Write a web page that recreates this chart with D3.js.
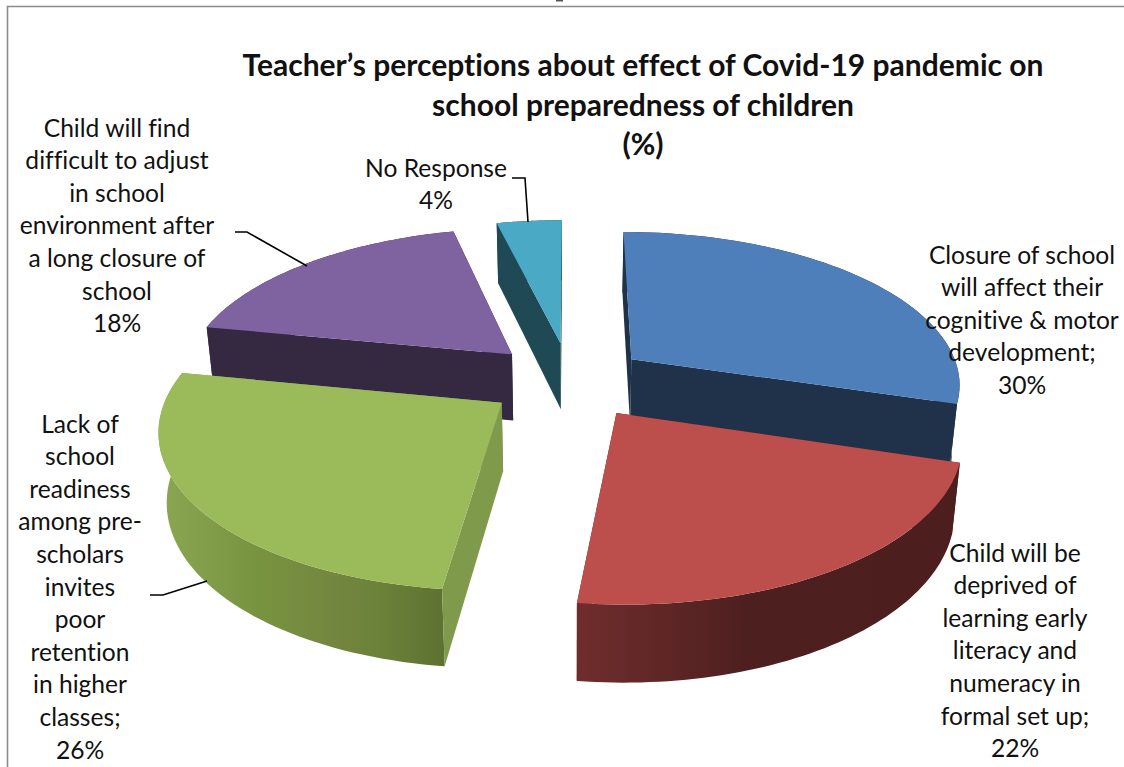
<!DOCTYPE html>
<html>
<head>
<meta charset="utf-8">
<script src="https://cdnjs.cloudflare.com/ajax/libs/d3/7.8.5/d3.min.js"></script>
<style>
  html, body { margin: 0; padding: 0; background: #fff; }
  svg { display: block; }
  text { font-family: Lato, "Open Sans", sans-serif; fill: #111; font-variant-ligatures: none; }
  .title { font-size: 30px; font-weight: 700; text-anchor: middle; }
  .label { font-size: 24.6px; text-anchor: middle; }
  .leader { fill: none; stroke: #000; stroke-width: 1.6; }
</style>
</head>
<body>
<svg id="chart" width="1124" height="767"></svg>
<script>
var categories = [
  "Closure of school will affect their cognitive & motor development",
  "Child will be deprived of learning early literacy and numeracy in formal set up",
  "Lack of school readiness among pre-scholars invites poor retention in higher classes",
  "Child will find difficult to adjust in school environment after a long closure of school",
  "No Response"
];
// slice sizes, the labels show them rounded
var values = [29.75, 22.15, 26.2, 18.15, 3.75];

var labelLines = [
  ["Closure of school", "will affect their", "cognitive & motor", "development;"],
  ["Child will be", "deprived of", "learning early", "literacy and", "numeracy in", "formal set up;"],
  ["Lack of", "school", "readiness", "among pre-", "scholars", "invites", "poor", "retention", "in higher", "classes;"],
  ["Child will find", "difficult to adjust", "in school", "environment after", "a long closure of", "school"],
  ["No Response"]
];
var titleLines = [
  "Teacher\u2019s perceptions about effect of Covid-19 pandemic on",
  "school preparedness of children",
  "(%)"
];

var topColors  = ["#4f7fbb", "#bc4e4b", "#9bba5a", "#7f62a0", "#4aa9c4"];
// cut face colours: [start edge, end edge]
var faceColors = [
  ["#1f3249", "#1f3249"],
  ["#4c1e1e", "#6e2c2c"],
  ["#7f9a4b", "#7f9a4b"],
  ["#352942", "#352942"],
  ["#1f4a55", "#1f4a55"]
];
var wallStops  = [
  [["0%", "#1f3249"], ["100%", "#1f3249"]],
  [["0%", "#702d2d"], ["45%", "#4e1f1f"], ["100%", "#4c1e1e"]],
  [["0%", "#8ca754"], ["35%", "#78933f"], ["60%", "#748740"], ["80%", "#6a8039"], ["100%", "#5d7131"]],
  [["0%", "#352942"], ["100%", "#352942"]],
  [["0%", "#1f4a55"], ["100%", "#1f4a55"]]
];

// where the label blocks sit [centre x, first line centre y]
var labelPos = [[1022, 255], [1015, 553], [80, 424], [117, 128], [436, 168]];
var lineGap = 32.6;

// pie geometry, tilted with a little perspective
var cx = 570, cy = 380, rx = 330, ry = 152;
var persp = 0.15;
var explode = [0.236, 0.25, 0.25, 0.25, 0.25];

var svg = d3.select("#chart");
var defs = svg.append("defs");

var pie = d3.pie().sort(null);
var arcs = pie(values);

function flat(u, v) {
  var s = 1 / (1 - persp * v);
  return [cx + rx * u * s, cy + ry * v * s];
}
function project(angle, mid, e) {
  return flat(Math.sin(angle) + e * Math.sin(mid), -Math.cos(angle) - e * Math.cos(mid));
}
function apex(mid, e) {
  return flat(e * Math.sin(mid), -e * Math.cos(mid));
}
// bottom plane of the pie
function lower(p) {
  return [cx + (p[0] - cx) * 0.98, p[1] * 1.047 + 49.6];
}

var line = d3.line();

// frame and the bit of cut off heading above it
svg.append("path")
  .attr("d", "M556,0H563V1.5H556Z")
  .attr("fill", "#555");
svg.append("path")
  .attr("d", "M1124,6.5H7.5V767")
  .attr("fill", "none").attr("stroke", "#8c8c8c").attr("stroke-width", 1.6);

// back slices first so front ones cover them
var drawOrder = [4, 3, 0, 2, 1];

drawOrder.forEach(function(i) {
  var d = arcs[i];
  var mid = (d.startAngle + d.endAngle) / 2;
  var angles = d3.range(61).map(function(k) {
    return d.startAngle + (d.endAngle - d.startAngle) * k / 60;
  });
  var rim = angles.map(function(a) { return project(a, mid, explode[i]); });
  var center = apex(mid, explode[i]);
  var g = svg.append("g").attr("class", "slice");

  var grad = defs.append("linearGradient").attr("id", "wall" + i);
  wallStops[i].forEach(function(s) {
    grad.append("stop").attr("offset", s[0]).attr("stop-color", s[1]);
  });

  // outer wall
  g.append("path")
    .attr("d", line(rim.concat(rim.map(lower).reverse())) + "Z")
    .attr("fill", "url(#wall" + i + ")");

  // the two cut faces
  [rim[0], rim[rim.length - 1]].forEach(function(p, k) {
    g.append("path")
      .attr("d", line([center, p, lower(p), lower(center)]) + "Z")
      .attr("fill", faceColors[i][k]);
  });

  // top
  g.append("path")
    .attr("d", line([center].concat(rim)) + "Z")
    .attr("fill", topColors[i]);
});

// leader lines
var leaders = [
  [[512, 178], [525, 178], [528, 222]],
  [[235, 232], [247, 232], [307, 266]],
  [[150, 595], [163, 595], [207, 581]]
];
svg.selectAll(".leader").data(leaders).enter().append("path")
  .attr("class", "leader")
  .attr("d", function(d) { return line(d); });

// title
svg.selectAll(".title").data(titleLines).enter().append("text")
  .attr("class", "title")
  .attr("x", 643)
  .attr("y", function(d, i) { return 76 + i * 39.7; })
  .text(function(d) { return d; });

// data labels
categories.forEach(function(c, i) {
  var lines = labelLines[i].concat([Math.round(values[i]) + "%"]);
  svg.append("g").selectAll("text").data(lines).enter().append("text")
    .attr("class", "label")
    .attr("x", labelPos[i][0])
    .attr("y", function(d, k) { return labelPos[i][1] + 8.5 + k * lineGap; })
    .text(function(d) { return d; });
});
</script>
</body>
</html>
